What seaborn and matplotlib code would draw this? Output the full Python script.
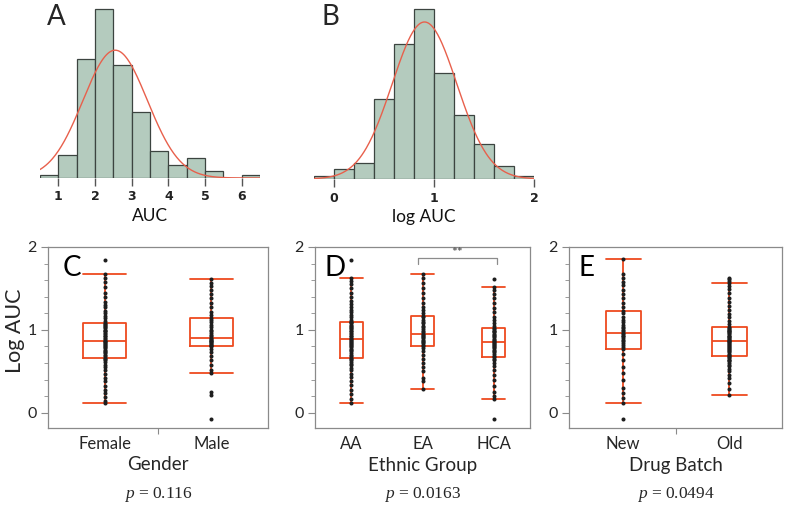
import numpy as np
import pandas as pd
import matplotlib
matplotlib.use("Agg")
import matplotlib.pyplot as plt
from matplotlib.ticker import MultipleLocator
import seaborn as sns

# -------------------------
# Data
# -------------------------

# A: AUC histogram (bin edges, counts) and normal fit (mean, sd)
auc_edges = [0.5, 1.0, 1.5, 2.0, 2.5, 3.0, 3.5, 4.0, 4.5, 5.0, 5.5, 6.0, 6.5]
auc_counts = [1, 7, 36, 51, 34, 20, 8, 4, 6, 2, 0, 1]
auc_fit = (2.55, 0.88)
auc_ticks = [1, 2, 3, 4, 5, 6]

# B: log AUC histogram
log_edges = [-0.2, 0.0, 0.2, 0.4, 0.6, 0.8, 1.0, 1.2, 1.4, 1.6, 1.8, 2.0]
log_counts = [1, 3, 5, 25, 42, 53, 33, 20, 11, 4, 1]
log_fit = (0.905, 0.323)
log_ticks = [0, 1, 2]

# C: log AUC by gender
female = [0.12, 0.14, 0.19, 0.24, 0.27, 0.32, 0.38, 0.42, 0.47, 0.51, 0.55, 0.58, 0.61, 0.63, 0.65,
          0.66,
          0.68, 0.70, 0.72, 0.73, 0.75, 0.76, 0.78, 0.79, 0.80, 0.82, 0.83, 0.84, 0.85, 0.86,
          0.87,
          0.89, 0.90, 0.92, 0.93, 0.95, 0.96, 0.98, 0.99, 1.00, 1.02, 1.03, 1.05, 1.06, 1.07,
          1.08,
          1.11, 1.14, 1.17, 1.20, 1.23, 1.27, 1.30, 1.34, 1.40, 1.45, 1.52, 1.58, 1.63,
          1.68, 1.84]
male = [-0.08, 0.21, 0.25, 0.48,
        0.52, 0.58, 0.63, 0.68, 0.73, 0.77,
        0.80,
        0.81, 0.82, 0.83, 0.84, 0.85, 0.86, 0.87, 0.88, 0.89,
        0.90,
        0.92, 0.94, 0.96, 0.98, 1.00, 1.03, 1.06, 1.09, 1.12,
        1.14,
        1.18, 1.22, 1.27, 1.32, 1.38, 1.43, 1.48, 1.53, 1.57,
        1.61]

# D: log AUC by ethnic group
aa = [0.12, 0.17, 0.22, 0.27, 0.33, 0.38, 0.43, 0.47, 0.51, 0.54, 0.57, 0.59, 0.61, 0.63, 0.65,
      0.66,
      0.68, 0.70, 0.72, 0.74, 0.76, 0.77, 0.79, 0.80, 0.82, 0.83, 0.84, 0.85, 0.86, 0.88,
      0.89,
      0.90, 0.92, 0.93, 0.95, 0.96, 0.98, 0.99, 1.01, 1.02, 1.04, 1.05, 1.06, 1.08, 1.09,
      1.10,
      1.12, 1.15, 1.18, 1.21, 1.24, 1.27, 1.31, 1.35, 1.40, 1.45, 1.50, 1.55, 1.59,
      1.62, 1.84]
ea = [0.28, 0.38, 0.42, 0.50, 0.55, 0.60, 0.65, 0.70, 0.74, 0.78,
      0.81,
      0.82, 0.84, 0.85, 0.87, 0.88, 0.90, 0.91, 0.92, 0.94,
      0.95,
      0.97, 0.99, 1.01, 1.03, 1.05, 1.08, 1.10, 1.12, 1.15,
      1.17,
      1.20, 1.24, 1.28, 1.33, 1.38, 1.44, 1.50, 1.56, 1.62,
      1.68]
hca = [-0.08, 0.16,
       0.20, 0.25, 0.32, 0.40, 0.46, 0.52, 0.56, 0.60, 0.63, 0.65,
       0.67,
       0.69, 0.71, 0.73, 0.75, 0.76, 0.78, 0.79, 0.80, 0.82, 0.83, 0.84,
       0.85,
       0.86, 0.88, 0.89, 0.91, 0.92, 0.94, 0.95, 0.97, 0.98, 0.99, 1.01,
       1.02,
       1.05, 1.08, 1.12, 1.16, 1.21, 1.26, 1.32, 1.38, 1.43, 1.48,
       1.52, 1.61]

# E: log AUC by drug batch
new = [-0.08, 0.12,
       0.18, 0.24, 0.30, 0.40, 0.48, 0.55, 0.64, 0.71,
       0.77,
       0.79, 0.82, 0.84, 0.86, 0.88, 0.90, 0.92, 0.93, 0.95,
       0.96,
       0.98, 1.00, 1.02, 1.04, 1.06, 1.09, 1.12, 1.16, 1.20,
       1.23,
       1.27, 1.32, 1.38, 1.43, 1.48, 1.54, 1.58, 1.62, 1.68,
       1.85]
old = [0.21,
       0.28, 0.36, 0.42, 0.46, 0.50, 0.53, 0.56, 0.58, 0.60, 0.62, 0.63, 0.64, 0.66, 0.67,
       0.68,
       0.70, 0.71, 0.73, 0.74, 0.76, 0.77, 0.78, 0.79, 0.80, 0.82, 0.83, 0.84, 0.85, 0.86,
       0.87,
       0.88, 0.89, 0.90, 0.91, 0.92, 0.93, 0.95, 0.96, 0.97, 0.98, 0.99, 1.00, 1.01, 1.02,
       1.04,
       1.07, 1.11, 1.15, 1.19, 1.24, 1.29, 1.34, 1.39, 1.44, 1.49, 1.53,
       1.56, 1.59, 1.61, 1.62]

p_values = ["0.116", "0.0163", "0.0494"]

# -------------------------
# Style
# -------------------------

HIST_FILL = "#b4cbbe"
HIST_EDGE = "#3c4440"
FIT_RED = "#e8604c"
BOX_RED = "#ee4a1f"
DOT = "#1e1e1e"
FRAME = "#8a8a8a"

sns.set_theme(style="white")
plt.rcParams["font.family"] = ["Lato", "DejaVu Sans"]
plt.rcParams["mathtext.fontset"] = "custom"
plt.rcParams["mathtext.it"] = "Liberation Serif:italic"
plt.rcParams["mathtext.rm"] = "Liberation Serif"

W, H = 789, 507
fig = plt.figure(figsize=(W / 100, H / 100), dpi=100)


def px_axes(x0, y0, x1, y1):
    # axes from pixel box (top-left origin)
    return fig.add_axes([x0 / W, 1 - y1 / H, (x1 - x0) / W, (y1 - y0) / H])


def draw_hist(ax, edges, counts, fit, ticks, xlabel):
    edges = np.asarray(edges, dtype=float)
    counts = np.asarray(counts, dtype=float)
    bars = pd.DataFrame({"mid": (edges[:-1] + edges[1:]) / 2, "n": counts})
    sns.histplot(data=bars, x="mid", weights="n", bins=list(edges), color=HIST_FILL,
                 edgecolor=HIST_EDGE, linewidth=0.9, alpha=1, ax=ax)

    mean, sd = fit
    binw = edges[1] - edges[0]
    xs = np.linspace(edges[0], edges[-1], 300)
    ys = counts.sum() * binw * np.exp(-0.5 * ((xs - mean) / sd) ** 2) / (sd * np.sqrt(2 * np.pi))
    sns.lineplot(x=xs, y=ys, color=FIT_RED, linewidth=1.0, ax=ax)

    ax.set_xlim(edges[0], edges[-1])
    ax.set_ylim(0, counts.max() * 1.005)
    ax.set_yticks([])
    ax.set_ylabel("")
    sns.despine(ax=ax, left=True, bottom=True)
    ax.set_xticks(ticks)
    ax.set_xticklabels([str(t) for t in ticks], fontfamily="DejaVu Sans",
                       fontweight="bold", fontsize=9, color="#222222")
    ax.tick_params(axis="x", bottom=True, length=6, width=1, color="#555555", pad=3)
    ax.set_xlabel(xlabel, fontsize=12.5, labelpad=3, color="#111111")


def draw_box(ax, groups, width, xlim, xlabel, letter, letter_x, mid_tick):
    order = list(groups)
    df = pd.DataFrame([(g, v) for g, vals in groups.items() for v in vals],
                      columns=["group", "value"])
    sns.boxplot(data=df, x="group", y="value", order=order, width=width, fill=False,
                color=BOX_RED, linewidth=1.3, whis=1.5, showfliers=False,
                capwidths=width, ax=ax)
    sns.stripplot(data=df, x="group", y="value", order=order, jitter=False,
                  color=DOT, size=2.9, ax=ax, zorder=5)

    ax.set_xlim(*xlim)
    ax.set_ylim(-0.185, 2.0)
    ax.set_yticks([0, 1, 2])
    ax.yaxis.set_minor_locator(MultipleLocator(0.2))
    ax.tick_params(axis="y", which="major", left=True, length=5, width=0.8,
                   color=FRAME, labelsize=11.5, pad=3)
    ax.tick_params(axis="y", which="minor", left=True, length=3, width=0.6, color=FRAME)
    ax.tick_params(axis="x", which="major", length=0, labelsize=12, pad=6)
    if mid_tick:
        ax.set_xticks([0.5], minor=True)
        ax.tick_params(axis="x", which="minor", bottom=True, length=4, width=0.8, color=FRAME)
    for sp in ax.spines.values():
        sp.set_visible(True)
        sp.set_color(FRAME)
        sp.set_linewidth(0.9)
    ax.set_xlabel(xlabel, fontsize=13.5, labelpad=3)
    ax.set_ylabel("")
    ax.text(letter_x, 0.885, letter, transform=ax.transAxes, fontsize=20,
            va="center", ha="left", color="black")


# -------------------------
# Top row: histograms
# -------------------------

ax_a = px_axes(40, 8, 260, 178)
draw_hist(ax_a, auc_edges, auc_counts, auc_fit, auc_ticks, "AUC")
fig.text(47 / W, 1 - 17 / H, "A", fontsize=20, va="center", ha="left")

ax_b = px_axes(314, 8, 534, 179)
draw_hist(ax_b, log_edges, log_counts, log_fit, log_ticks, "log AUC")
fig.text(321 / W, 1 - 17 / H, "B", fontsize=20, va="center", ha="left")

# -------------------------
# Bottom row: box plots
# -------------------------

ax_c = px_axes(48, 247, 268, 428)
draw_box(ax_c, {"Female": female, "Male": male}, 0.41, (-0.53, 1.53),
         "Gender", "C", 0.065, True)

ax_d = px_axes(315, 247, 530, 428)
draw_box(ax_d, {"AA": aa, "EA": ea, "HCA": hca}, 0.33, (-0.51, 2.51),
         "Ethnic Group", "D", 0.045, False)

ax_e = px_axes(569, 247, 782, 428)
draw_box(ax_e, {"New": new, "Old": old}, 0.33, (-0.51, 1.5),
         "Drug Batch", "E", 0.045, True)

# significance bracket EA vs HCA
sig_left, sig_right = 1, 2
sig_y, sig_drop = 1.867, 0.075
ax_d.plot([sig_left - 0.07, sig_left - 0.07, sig_right + 0.04, sig_right + 0.04],
          [sig_y - sig_drop, sig_y, sig_y, sig_y - sig_drop],
          color="#8c8c8c", linewidth=0.9)
ax_d.text((sig_left + sig_right) / 2 - 0.01, sig_y - 0.01, "**", ha="center", va="bottom",
          fontsize=10, color="#444444")

fig.text(15 / W, 1 - 331 / H, "Log AUC", rotation=90, fontsize=15.5, va="center", ha="center")

for ax, p in zip([ax_c, ax_d, ax_e], p_values):
    pos = ax.get_position()
    fig.text(pos.x0 + pos.width / 2, 1 - 494 / H, r"$\mathit{p}$ = " + p,
             fontsize=12.5, fontfamily="Liberation Serif", ha="center", va="center")

fig.savefig("out.png", dpi=100)
